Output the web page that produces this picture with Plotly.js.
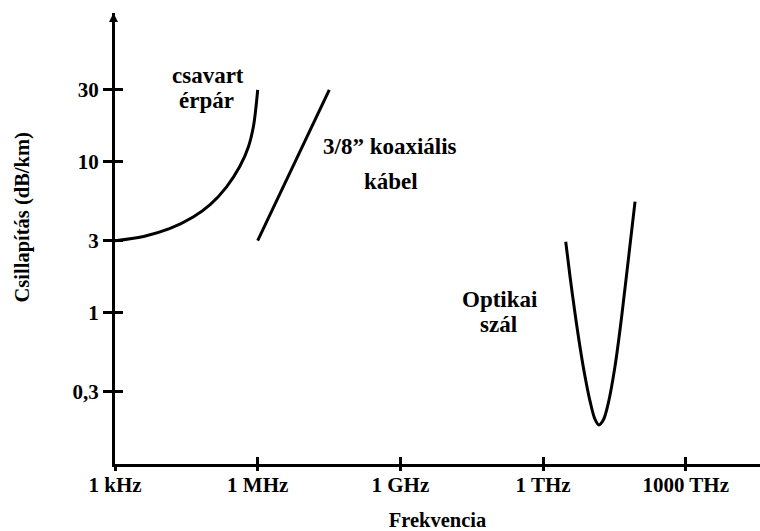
<!DOCTYPE html>
<html><head><meta charset="utf-8">
<script src="https://cdn.plot.ly/plotly-3.0.1.min.js"></script>
<style>html,body{margin:0;padding:0;background:#fff;}</style>
</head><body>
<div id="chart" style="width:760px;height:531px;"></div>
<script>
// Tick labels
const xTickVals = [1e3, 1e6, 1e9, 1e12, 1e15];
const xTickText = ['1 kHz', '1 MHz', '1 GHz', '1 THz', '1000 THz'];
const yTickVals = [0.3, 1, 3, 10, 30];
const yTickText = ['0,3', '1', '3', '10', '30'];

// Series (frequency in Hz, attenuation in dB/km)
const twistedFreq = [1e3, 4e3, 1.4e4, 4.4e4, 1e5, 2.2e5, 4.2e5, 6.4e5, 8.1e5, 9.2e5, 1e6];
const twistedAtt  = [3, 3.2, 3.6, 4.3, 5.2, 6.8, 9.3, 12.6, 17, 23, 30];
const coaxFreq = [1e6, 3.2e7];
const coaxAtt  = [3, 30];
const fiberFreq = [3.0e12, 3.7e12, 4.7e12, 6.0e12, 7.6e12, 9.7e12, 1.24e13, 1.5e13, 1.85e13, 2.35e13, 3.26e13, 4.5e13, 6.2e13, 8.6e13];
const fiberAtt  = [2.95, 1.73, 0.99, 0.59, 0.38, 0.26, 0.196, 0.18, 0.194, 0.25, 0.44, 0.94, 2.23, 5.44];

// Text
const labelLines = ['csavart', 'érpár', '3/8\u201D koaxiális', 'kábel', 'Optikai', 'szál'];
const xTitle = 'Frekvencia';
const yTitle = 'Csillapítás (dB/km)';

const FAM = 'Liberation Serif';
const tickFont = {family: FAM, size: 21, color: '#000', weight: 'bold'};
const titleFont = {family: FAM, size: 20.5, color: '#000', weight: 'bold'};
const labFont = {family: FAM, size: 23, color: '#000', weight: 'bold'};

const lineStyle = {color: '#000', width: 3, shape: 'spline', smoothing: 1};
const traces = [
  {x: twistedFreq, y: twistedAtt, mode: 'lines', line: lineStyle, hoverinfo: 'skip'},
  {x: coaxFreq, y: coaxAtt, mode: 'lines', line: {color: '#000', width: 3}, hoverinfo: 'skip'},
  {x: fiberFreq, y: fiberAtt, mode: 'lines', line: lineStyle, hoverinfo: 'skip'},
  {x: [], y: [], xaxis: 'x2', yaxis: 'y2', mode: 'lines', hoverinfo: 'skip'}
];

const XR = [3, 16.562];
const YR = [-1.004, 1.9867];

const labelPos = [
  [0.1442, 0.8620], [0.1426, 0.8060],
  [0.4264, 0.7040], [0.4279, 0.6270],
  [0.5969, 0.3650], [0.5938, 0.3090]
];

const annotations = labelLines.map((t, i) => ({
  text: t, xref: 'paper', yref: 'paper', x: labelPos[i][0], y: labelPos[i][1],
  xanchor: 'center', yanchor: 'middle', showarrow: false, font: labFont
}));
annotations.push({
  text: yTitle, textangle: -90, xref: 'paper', yref: 'paper', x: -0.1434, y: 0.5455,
  xanchor: 'center', yanchor: 'middle', showarrow: false, font: titleFont
});
annotations.push({
  text: '', xref: 'paper', yref: 'paper', x: 0, y: 1, xshift: -1.5,
  ax: 0, ay: 25, showarrow: true, arrowhead: 2, arrowsize: 0.6, arrowwidth: 3, arrowcolor: '#000'
});

const layout = {
  width: 760, height: 531,
  margin: {l: 115, r: 0, t: 13, b: 67, pad: 0},
  paper_bgcolor: '#fff', plot_bgcolor: '#fff',
  showlegend: false,
  font: {family: FAM, size: 20, color: '#000', weight: 'bold'},
  xaxis: {
    type: 'log', range: XR, showgrid: false, zeroline: false,
    showline: true, linecolor: '#000', linewidth: 3,
    ticks: 'inside', ticklen: 7, tickwidth: 3, tickcolor: '#000',
    tickmode: 'array', tickvals: xTickVals, ticktext: xTickText, tickfont: tickFont,
    title: {text: xTitle, font: titleFont, standoff: 27}
  },
  xaxis2: {
    type: 'log', range: XR, overlaying: 'x', anchor: 'y2', side: 'bottom',
    showgrid: false, zeroline: false, showline: false, linewidth: 3,
    ticks: 'outside', ticklen: 6, tickwidth: 3, tickcolor: '#000',
    tickmode: 'array', tickvals: xTickVals, showticklabels: false
  },
  yaxis: {
    type: 'log', range: YR, showgrid: false, zeroline: false,
    showline: true, linecolor: '#000', linewidth: 3,
    ticks: 'outside', ticklen: 9, tickwidth: 3, tickcolor: '#000',
    tickmode: 'array', tickvals: yTickVals, ticktext: yTickText, tickfont: tickFont
  },
  yaxis2: {
    type: 'log', range: YR, overlaying: 'y', anchor: 'x2', side: 'left',
    showgrid: false, zeroline: false, showline: false, linewidth: 3,
    ticks: 'inside', ticklen: 8, tickwidth: 3, tickcolor: '#000',
    tickmode: 'array', tickvals: yTickVals, showticklabels: false
  },
  annotations: annotations
};

Plotly.newPlot('chart', traces, layout, {displayModeBar: false, staticPlot: true});
</script>
</body></html>
